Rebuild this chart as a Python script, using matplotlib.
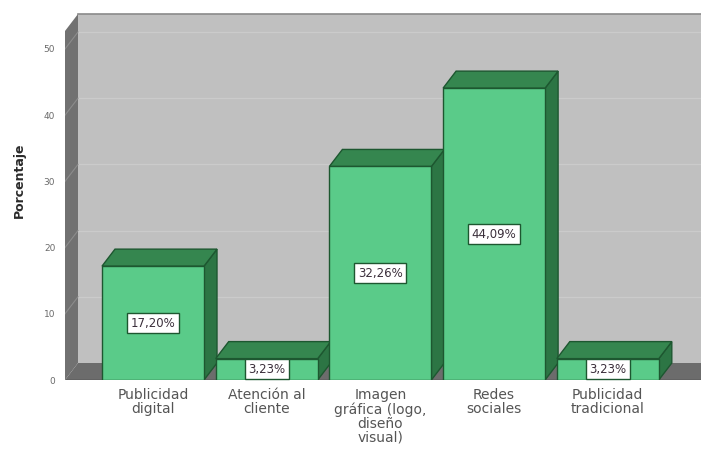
import matplotlib
matplotlib.use("Agg")
import matplotlib.pyplot as plt
from matplotlib.patches import Polygon, Rectangle

# Data
categories = ["Publicidad\ndigital", "Atención al\ncliente",
              "Imagen\ngráfica (logo,\ndiseño\nvisual)", "Redes\nsociales",
              "Publicidad\ntradicional"]
percentages = [17.20, 3.23, 32.26, 44.09, 3.23]
y_ticks = [0, 10, 20, 30, 40, 50]

# Figure / axes geometry (pixels)
W, H = 701, 457
fig = plt.figure(figsize=(W / 100, H / 100), dpi=100)
ax_left, ax_right, ax_top, ax_bottom = 65, 701, 10, 380
ax = fig.add_axes([ax_left / W, (H - ax_bottom) / H,
                   (ax_right - ax_left) / W, (ax_bottom - ax_top) / H])

px_per_unit = 6.62
px_per_cat = 113.7
first_center_px = 153
x0 = (ax_left - first_center_px) / px_per_cat
x1 = (ax_right - first_center_px) / px_per_cat
ytop = (ax_bottom - ax_top) / px_per_unit
ax.set_xlim(x0, x1)
ax.set_ylim(0, ytop)

# depth offset of the 3D look, in data units
dx = 13 / px_per_cat
dy = 17 / px_per_unit
wall_top = (ax_bottom - 14) / px_per_unit

wall_col = "#c0c0c0"
side_wall_col = "#717171"
floor_col = "#6c6c6c"
grid_col = "#cbcbcb"

# back wall
ax.add_patch(Rectangle((x0 + dx, dy), x1 - x0, wall_top - dy,
                       facecolor=wall_col, edgecolor="none", zorder=1))
ax.plot([x0 + dx, x1], [wall_top, wall_top], color="#8a8a8a", lw=1.2, zorder=1.5)
# left wall
ax.add_patch(Polygon([(x0, 0), (x0 + dx, dy), (x0 + dx, wall_top), (x0, wall_top - dy)],
                     closed=True, facecolor=side_wall_col, edgecolor="none", zorder=2))
# floor
ax.add_patch(Polygon([(x0, 0), (x1, 0), (x1 + dx, dy), (x0 + dx, dy)],
                     closed=True, facecolor=floor_col, edgecolor="none", zorder=2))
ax.plot([x0, x1], [0, 0], color="#3a3a3a", lw=1.0, zorder=2.5)

# grid lines on back wall and left wall
for v in y_ticks[1:]:
    ax.plot([x0 + dx, x1], [v + dy, v + dy], color=grid_col, lw=0.9, zorder=1.2)
    ax.plot([x0, x0 + dx], [v, v + dy], color="#8c8c8c", lw=0.8, zorder=2.2)

# 3D bars
bar_w = 102 / px_per_cat
front_col = "#5acb89"
top_col = "#35864f"
side_col = "#2c7544"
edge_col = "#1d5730"
for i, v in enumerate(percentages):
    l, r = i - bar_w / 2, i + bar_w / 2
    ax.add_patch(Polygon([(r, 0), (r + dx, dy), (r + dx, v + dy), (r, v)], closed=True,
                         facecolor=side_col, edgecolor=edge_col, lw=1.0, zorder=3))
    ax.add_patch(Polygon([(l, v), (r, v), (r + dx, v + dy), (l + dx, v + dy)], closed=True,
                         facecolor=top_col, edgecolor=edge_col, lw=1.0, zorder=3))
    ax.add_patch(Rectangle((l, 0), bar_w, v, facecolor=front_col,
                           edgecolor=edge_col, lw=1.0, zorder=4))
    ax.text(i, v / 2, f"{v:.2f}".replace(".", ",") + "%", ha="center", va="center",
            fontsize=8.5, color="#3b2f3b", zorder=6,
            bbox=dict(boxstyle="square,pad=0.3", facecolor="white",
                      edgecolor=edge_col, lw=1.0))

# axes styling
for s in ax.spines.values():
    s.set_visible(False)
ax.set_facecolor("none")
ax.set_yticks(y_ticks)
ax.set_yticklabels([str(t) for t in y_ticks])
ax.tick_params(axis="y", length=0, pad=7, labelsize=6.5, labelcolor="#6a6a6a")
ax.set_xticks(range(len(categories)))
ax.set_xticklabels(categories, fontsize=10, color="#555555", linespacing=1.0)
ax.tick_params(axis="x", length=0, pad=6)
ax.set_ylabel("Porcentaje", fontsize=9, fontweight="bold", color="#2a2a2a")
ax.yaxis.set_label_coords((26 - ax_left) / (ax_right - ax_left),
                          (ax_bottom - 180) / (ax_bottom - ax_top))

fig.savefig("out.png", dpi=100, facecolor="white")
